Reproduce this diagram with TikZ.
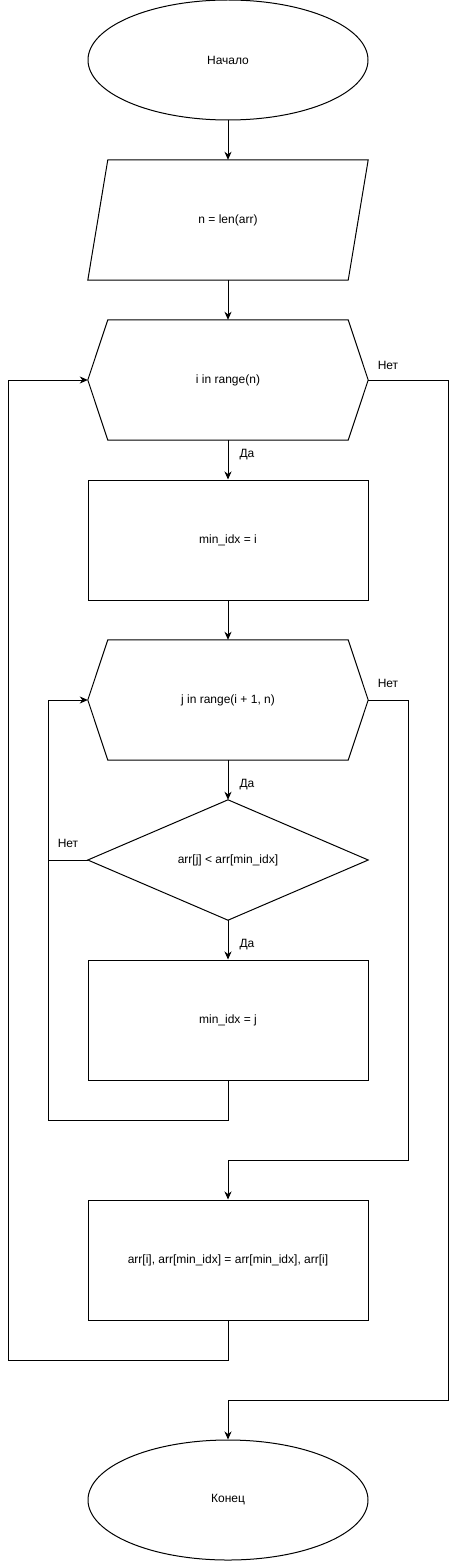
\documentclass[tikz,border=0pt]{standalone}
\usepackage{fontspec}
\setmainfont{Liberation Sans}
\usetikzlibrary{shapes.geometric,arrows.meta}
\begin{document}
\begin{tikzpicture}[x=1pt,y=-1pt,
  every node/.style={font=\fontsize{12}{14}\selectfont},
  ln/.style={draw=black,line width=1pt},
  arr/.style={ln,-{Stealth[length=8pt,width=7pt,inset=2.5pt]}},
  term/.style={ellipse,draw=black,line width=1pt,minimum width=280pt,minimum height=120pt,inner sep=0pt},
  frame/.style={rectangle,minimum width=280pt,minimum height=120pt,inner sep=0pt},
  procbox/.style={frame,draw=black,line width=1pt},
  lbl/.style={inner sep=0pt}
]
\useasboundingbox (0,0) rectangle (457,1562);

\node[term] (start) at (228,60) {Начало};
\node[frame] (inp) at (228,220) {n = len(arr)};
\draw[ln] ([xshift=20pt]inp.north west) -- (inp.north east) -- ([xshift=-20pt]inp.south east) -- (inp.south west) -- cycle;
\node[frame] (h1) at (228,380) {i in range(n)};
\draw[ln] (h1.west) -- ([xshift=20pt]h1.north west) -- ([xshift=-20pt]h1.north east) -- (h1.east) -- ([xshift=-20pt]h1.south east) -- ([xshift=20pt]h1.south west) -- cycle;
\node[procbox] (r1) at (228,540) {min\_idx = i};
\node[frame] (h2) at (228,700) {j in range(i + 1, n)};
\draw[ln] (h2.west) -- ([xshift=20pt]h2.north west) -- ([xshift=-20pt]h2.north east) -- (h2.east) -- ([xshift=-20pt]h2.south east) -- ([xshift=20pt]h2.south west) -- cycle;
\node[frame] (d) at (228,860) {arr[j] < arr[min\_idx]};
\draw[ln] (d.west) -- (d.north) -- (d.east) -- (d.south) -- cycle;
\node[procbox] (r2) at (228,1020) {min\_idx = j};
\node[procbox] (sw) at (228,1260) {arr[i], arr[min\_idx] = arr[min\_idx], arr[i]};
\node[term] (fin) at (228,1500) {Конец};

\coordinate (cL1) at (48,1120);
\coordinate (cL2) at (48,860);
\coordinate (cR1) at (408,1160);
\coordinate (cL3) at (8,1360);
\coordinate (cR2) at (448,1400);

\draw[arr] (start.south) -- (inp.north);
\draw[arr] (inp.south) -- (h1.north);
\draw[arr] (h1.south) -- (r1.north);
\draw[arr] (r1.south) -- (h2.north);
\draw[arr] (h2.south) -- (d.north);
\draw[arr] (d.south) -- (r2.north);
\draw[arr] (r2.south) |- (cL1) |- (h2.west);
\draw[ln] (d.west) -- (cL2);
\draw[arr] (h2.east) -| (cR1) -| (sw.north);
\draw[arr] (sw.south) |- (cL3) |- (h1.west);
\draw[arr] (h1.east) -| (cR2) -| (fin.north);

\node[lbl] (l1) at (247,455) {Да};
\node[lbl] (l2) at (247,785) {Да};
\node[lbl] (l3) at (247,945) {Да};
\node[lbl] (l4) at (388,365) {Нет};
\node[lbl] (l5) at (388,683) {Нет};
\node[lbl] (l6) at (68,843) {Нет};
\end{tikzpicture}
\end{document}
